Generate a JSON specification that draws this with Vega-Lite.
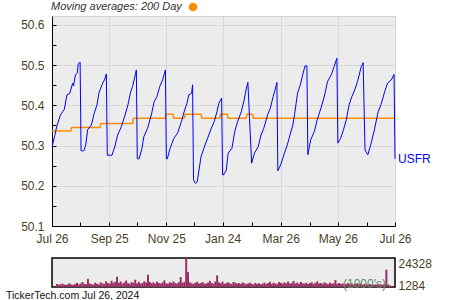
{
  "$schema": "https://vega.github.io/schema/vega-lite/v6.json",
  "background": "white",
  "padding": {"left": 5, "top": 2, "right": 0, "bottom": 0},
  "spacing": 11,
  "config": {
    "font": "Liberation Sans",
    "axis": {"labelFont": "Liberation Sans", "labelFontSize": 12, "labelColor": "#4b3e1e", "domainColor": "#000000", "tickColor": "#000000", "gridColor": "#d9d9d9"}
  },
  "datasets": {
    "price": [
      {"d":"2023-07-26","p":50.297},{"d":"2023-07-29","p":50.325},{"d":"2023-07-31","p":50.347},{"d":"2023-08-04","p":50.376},{"d":"2023-08-08","p":50.389},{"d":"2023-08-11","p":50.426},{"d":"2023-08-14","p":50.430},{"d":"2023-08-17","p":50.455},{"d":"2023-08-18","p":50.448},{"d":"2023-08-20","p":50.476},{"d":"2023-08-22","p":50.480},{"d":"2023-08-23","p":50.503},{"d":"2023-08-25","p":50.507},{"d":"2023-08-26","p":50.287},{"d":"2023-08-29","p":50.287},
      {"d":"2023-08-31","p":50.301},{"d":"2023-09-02","p":50.339},{"d":"2023-09-06","p":50.351},{"d":"2023-09-09","p":50.380},{"d":"2023-09-12","p":50.401},{"d":"2023-09-14","p":50.430},{"d":"2023-09-18","p":50.455},{"d":"2023-09-20","p":50.463},{"d":"2023-09-22","p":50.478},{"d":"2023-09-23","p":50.276},{"d":"2023-09-28","p":50.276},
      {"d":"2023-10-01","p":50.297},{"d":"2023-10-04","p":50.326},{"d":"2023-10-08","p":50.347},{"d":"2023-10-12","p":50.376},{"d":"2023-10-15","p":50.401},{"d":"2023-10-18","p":50.434},{"d":"2023-10-20","p":50.447},{"d":"2023-10-22","p":50.467},{"d":"2023-10-24","p":50.488},{"d":"2023-10-25","p":50.267},{"d":"2023-10-27","p":50.267},
      {"d":"2023-10-30","p":50.293},{"d":"2023-11-01","p":50.322},{"d":"2023-11-05","p":50.343},{"d":"2023-11-09","p":50.376},{"d":"2023-11-12","p":50.409},{"d":"2023-11-15","p":50.422},{"d":"2023-11-18","p":50.447},{"d":"2023-11-21","p":50.463},{"d":"2023-11-24","p":50.488},{"d":"2023-11-25","p":50.267},{"d":"2023-11-26","p":50.267},
      {"d":"2023-11-29","p":50.293},{"d":"2023-12-03","p":50.318},{"d":"2023-12-07","p":50.331},{"d":"2023-12-11","p":50.359},{"d":"2023-12-14","p":50.384},{"d":"2023-12-17","p":50.405},{"d":"2023-12-19","p":50.426},{"d":"2023-12-22","p":50.430},{"d":"2023-12-23","p":50.451},{"d":"2023-12-24","p":50.215},{"d":"2023-12-26","p":50.206},
      {"d":"2023-12-28","p":50.210},{"d":"2024-01-01","p":50.272},{"d":"2024-01-04","p":50.293},{"d":"2024-01-08","p":50.318},{"d":"2024-01-12","p":50.343},{"d":"2024-01-15","p":50.359},{"d":"2024-01-18","p":50.384},{"d":"2024-01-20","p":50.405},{"d":"2024-01-23","p":50.418},{"d":"2024-01-24","p":50.227},
      {"d":"2024-01-25","p":50.227},{"d":"2024-01-28","p":50.239},{"d":"2024-01-30","p":50.281},{"d":"2024-02-03","p":50.293},{"d":"2024-02-06","p":50.335},{"d":"2024-02-09","p":50.359},{"d":"2024-02-13","p":50.384},{"d":"2024-02-16","p":50.413},{"d":"2024-02-18","p":50.438},{"d":"2024-02-20","p":50.457},{"d":"2024-02-24","p":50.256},
      {"d":"2024-02-27","p":50.281},{"d":"2024-03-02","p":50.297},{"d":"2024-03-05","p":50.326},{"d":"2024-03-08","p":50.343},{"d":"2024-03-12","p":50.376},{"d":"2024-03-15","p":50.393},{"d":"2024-03-18","p":50.422},{"d":"2024-03-20","p":50.438},{"d":"2024-03-22","p":50.457},{"d":"2024-03-23","p":50.237},
      {"d":"2024-03-26","p":50.252},{"d":"2024-03-30","p":50.281},{"d":"2024-04-02","p":50.301},{"d":"2024-04-04","p":50.318},{"d":"2024-04-08","p":50.351},{"d":"2024-04-10","p":50.380},{"d":"2024-04-13","p":50.430},{"d":"2024-04-16","p":50.451},{"d":"2024-04-18","p":50.471},{"d":"2024-04-21","p":50.498},{"d":"2024-04-23","p":50.498},{"d":"2024-04-24","p":50.277},
      {"d":"2024-04-27","p":50.314},{"d":"2024-05-01","p":50.335},{"d":"2024-05-04","p":50.364},{"d":"2024-05-08","p":50.393},{"d":"2024-05-12","p":50.426},{"d":"2024-05-15","p":50.459},{"d":"2024-05-19","p":50.476},{"d":"2024-05-22","p":50.496},{"d":"2024-05-25","p":50.517},{"d":"2024-05-26","p":50.306},
      {"d":"2024-05-29","p":50.318},{"d":"2024-06-01","p":50.339},{"d":"2024-06-04","p":50.364},{"d":"2024-06-07","p":50.401},{"d":"2024-06-10","p":50.422},{"d":"2024-06-13","p":50.438},{"d":"2024-06-16","p":50.459},{"d":"2024-06-20","p":50.496},{"d":"2024-06-22","p":50.506},{"d":"2024-06-24","p":50.289},{"d":"2024-06-27","p":50.277},
      {"d":"2024-06-30","p":50.301},{"d":"2024-07-04","p":50.339},{"d":"2024-07-08","p":50.384},{"d":"2024-07-11","p":50.401},{"d":"2024-07-15","p":50.434},{"d":"2024-07-18","p":50.455},{"d":"2024-07-22","p":50.463},{"d":"2024-07-25","p":50.477},{"d":"2024-07-26","p":50.267}
    ],
    "ma": [
      {"d":"2023-07-26","p":50.336},{"d":"2023-08-15","p":50.336},{"d":"2023-08-16","p":50.345},{"d":"2023-09-15","p":50.345},{"d":"2023-09-16","p":50.355},{"d":"2023-10-20","p":50.355},{"d":"2023-10-21","p":50.368},{"d":"2023-11-24","p":50.368},{"d":"2023-11-25","p":50.378},{"d":"2023-12-02","p":50.378},{"d":"2023-12-03","p":50.368},{"d":"2023-12-14","p":50.368},{"d":"2023-12-15","p":50.378},{"d":"2024-01-01","p":50.378},{"d":"2024-01-02","p":50.368},{"d":"2024-01-21","p":50.368},{"d":"2024-01-22","p":50.378},{"d":"2024-01-29","p":50.378},{"d":"2024-01-30","p":50.368},{"d":"2024-02-18","p":50.368},{"d":"2024-02-19","p":50.378},{"d":"2024-02-25","p":50.378},{"d":"2024-02-26","p":50.368},{"d":"2024-07-25","p":50.368}
    ],
    "vol": [
      {"d":"2023-07-26","v":2600},{"d":"2023-07-28","v":1900},{"d":"2023-07-30","v":2300},
      {"d":"2023-08-01","v":2800},{"d":"2023-08-03","v":2100},{"d":"2023-08-05","v":1700},{"d":"2023-08-07","v":2400},{"d":"2023-08-09","v":3100},{"d":"2023-08-11","v":2000},{"d":"2023-08-13","v":1800},{"d":"2023-08-15","v":2600},{"d":"2023-08-17","v":3400},{"d":"2023-08-19","v":2200},{"d":"2023-08-21","v":2900},{"d":"2023-08-23","v":4200},{"d":"2023-08-25","v":2500},{"d":"2023-08-27","v":2300},{"d":"2023-08-29","v":6900},{"d":"2023-08-31","v":3000},
      {"d":"2023-09-02","v":2400},{"d":"2023-09-04","v":2000},{"d":"2023-09-06","v":3600},{"d":"2023-09-08","v":2700},{"d":"2023-09-10","v":2200},{"d":"2023-09-12","v":3900},{"d":"2023-09-14","v":3100},{"d":"2023-09-16","v":2500},{"d":"2023-09-18","v":4800},{"d":"2023-09-20","v":3300},{"d":"2023-09-22","v":2800},{"d":"2023-09-24","v":5200},{"d":"2023-09-26","v":3600},{"d":"2023-09-28","v":4400},{"d":"2023-09-30","v":8600},
      {"d":"2023-10-02","v":3500},{"d":"2023-10-04","v":4700},{"d":"2023-10-06","v":2900},{"d":"2023-10-08","v":3800},{"d":"2023-10-10","v":5400},{"d":"2023-10-12","v":3200},{"d":"2023-10-14","v":2700},{"d":"2023-10-16","v":4100},{"d":"2023-10-18","v":3600},{"d":"2023-10-20","v":6100},{"d":"2023-10-22","v":3000},{"d":"2023-10-24","v":4300},{"d":"2023-10-26","v":2800},{"d":"2023-10-28","v":3500},{"d":"2023-10-30","v":4900},
      {"d":"2023-11-01","v":3700},{"d":"2023-11-03","v":10300},{"d":"2023-11-05","v":4200},{"d":"2023-11-07","v":3100},{"d":"2023-11-09","v":3900},{"d":"2023-11-11","v":2800},{"d":"2023-11-13","v":4500},{"d":"2023-11-15","v":3300},{"d":"2023-11-17","v":2900},{"d":"2023-11-19","v":3800},{"d":"2023-11-21","v":5600},{"d":"2023-11-23","v":3100},{"d":"2023-11-25","v":2700},{"d":"2023-11-27","v":4000},{"d":"2023-11-29","v":3400},
      {"d":"2023-12-01","v":4700},{"d":"2023-12-03","v":3200},{"d":"2023-12-05","v":2900},{"d":"2023-12-07","v":4100},{"d":"2023-12-09","v":8400},{"d":"2023-12-11","v":3600},{"d":"2023-12-13","v":4300},{"d":"2023-12-15","v":24328},{"d":"2023-12-17","v":12500},{"d":"2023-12-19","v":3900},{"d":"2023-12-21","v":3100},{"d":"2023-12-23","v":2600},{"d":"2023-12-25","v":3500},{"d":"2023-12-27","v":4400},{"d":"2023-12-29","v":2900},{"d":"2023-12-31","v":3300},
      {"d":"2024-01-02","v":4100},{"d":"2024-01-04","v":3000},{"d":"2024-01-06","v":2800},{"d":"2024-01-08","v":3700},{"d":"2024-01-10","v":5200},{"d":"2024-01-12","v":3400},{"d":"2024-01-14","v":2900},{"d":"2024-01-16","v":4600},{"d":"2024-01-18","v":9800},{"d":"2024-01-20","v":3800},{"d":"2024-01-22","v":3100},{"d":"2024-01-24","v":4500},{"d":"2024-01-26","v":2700},{"d":"2024-01-28","v":3300},{"d":"2024-01-30","v":3900},
      {"d":"2024-02-01","v":3000},{"d":"2024-02-03","v":2600},{"d":"2024-02-05","v":4200},{"d":"2024-02-07","v":3500},{"d":"2024-02-09","v":2800},{"d":"2024-02-11","v":3300},{"d":"2024-02-13","v":2500},{"d":"2024-02-15","v":3900},{"d":"2024-02-17","v":3100},{"d":"2024-02-19","v":2400},{"d":"2024-02-21","v":2900},{"d":"2024-02-23","v":3600},{"d":"2024-02-25","v":2700},{"d":"2024-02-27","v":2200},{"d":"2024-02-29","v":3400},
      {"d":"2024-03-02","v":2600},{"d":"2024-03-04","v":3100},{"d":"2024-03-06","v":2300},{"d":"2024-03-08","v":2800},{"d":"2024-03-10","v":3700},{"d":"2024-03-12","v":2500},{"d":"2024-03-14","v":3300},{"d":"2024-03-16","v":4400},{"d":"2024-03-18","v":2700},{"d":"2024-03-20","v":3600},{"d":"2024-03-22","v":3000},{"d":"2024-03-24","v":2400},{"d":"2024-03-26","v":4100},{"d":"2024-03-28","v":3500},{"d":"2024-03-30","v":2900},
      {"d":"2024-04-01","v":3800},{"d":"2024-04-03","v":3100},{"d":"2024-04-05","v":4600},{"d":"2024-04-07","v":2800},{"d":"2024-04-09","v":3400},{"d":"2024-04-11","v":5100},{"d":"2024-04-13","v":3000},{"d":"2024-04-15","v":3700},{"d":"2024-04-17","v":2600},{"d":"2024-04-19","v":4300},{"d":"2024-04-21","v":3200},{"d":"2024-04-23","v":2800},{"d":"2024-04-25","v":3600},{"d":"2024-04-27","v":2500},{"d":"2024-04-29","v":3300},
      {"d":"2024-05-01","v":4000},{"d":"2024-05-03","v":2700},{"d":"2024-05-05","v":3500},{"d":"2024-05-07","v":4800},{"d":"2024-05-09","v":2900},{"d":"2024-05-11","v":3300},{"d":"2024-05-13","v":2600},{"d":"2024-05-15","v":3900},{"d":"2024-05-17","v":3100},{"d":"2024-05-19","v":2400},{"d":"2024-05-21","v":3600},{"d":"2024-05-23","v":2800},{"d":"2024-05-25","v":3200},{"d":"2024-05-27","v":5800},{"d":"2024-05-29","v":2700},{"d":"2024-05-31","v":3400},
      {"d":"2024-06-02","v":2500},{"d":"2024-06-04","v":3000},{"d":"2024-06-06","v":2200},{"d":"2024-06-08","v":2700},{"d":"2024-06-10","v":3300},{"d":"2024-06-12","v":2400},{"d":"2024-06-14","v":2900},{"d":"2024-06-16","v":2100},{"d":"2024-06-18","v":2600},{"d":"2024-06-20","v":3100},{"d":"2024-06-22","v":2300},{"d":"2024-06-24","v":2800},{"d":"2024-06-26","v":2000},{"d":"2024-06-28","v":2500},{"d":"2024-06-30","v":2200},
      {"d":"2024-07-02","v":1900},{"d":"2024-07-04","v":2400},{"d":"2024-07-06","v":2100},{"d":"2024-07-08","v":1800},{"d":"2024-07-10","v":2300},{"d":"2024-07-12","v":2000},{"d":"2024-07-14","v":1700},{"d":"2024-07-16","v":2200},{"d":"2024-07-18","v":1900},{"d":"2024-07-20","v":2600},{"d":"2024-07-22","v":14500},{"d":"2024-07-24","v":2100},{"d":"2024-07-26","v":1284}
    ]
  },
  "vconcat": [
    {
      "width": 343,
      "height": 210,
      "view": {"fill": "#ececec", "stroke": "#d4d4d4"},
      "encoding": {
        "x": {
          "field": "d", "type": "temporal",
          "scale": {"type": "utc", "domain": [{"year": 2023, "month": 7, "date": 26, "utc": true}, {"year": 2024, "month": 7, "date": 26, "utc": true}]},
          "axis": {
            "title": null,
            "values": [
              {"year": 2023, "month": 7, "date": 26, "utc": true},
              {"year": 2023, "month": 8, "date": 25, "utc": true},
              {"year": 2023, "month": 9, "date": 25, "utc": true},
              {"year": 2023, "month": 10, "date": 25, "utc": true},
              {"year": 2023, "month": 11, "date": 25, "utc": true},
              {"year": 2023, "month": 12, "date": 25, "utc": true},
              {"year": 2024, "month": 1, "date": 24, "utc": true},
              {"year": 2024, "month": 2, "date": 24, "utc": true},
              {"year": 2024, "month": 3, "date": 26, "utc": true},
              {"year": 2024, "month": 4, "date": 26, "utc": true},
              {"year": 2024, "month": 5, "date": 26, "utc": true},
              {"year": 2024, "month": 6, "date": 26, "utc": true},
              {"year": 2024, "month": 7, "date": 26, "utc": true}
            ],
            "labelExpr": "utcmonth(datum.value) % 2 == 0 ? utcFormat(datum.value, '%b %d') : ''",
            "gridOpacity": {"condition": {"test": "utcmonth(datum.value) % 2 == 0", "value": 1}, "value": 0},
            "tickSize": -4,
            "labelPadding": 11,
            "labelFlush": false,
            "labelOverlap": false
          }
        },
        "y": {
          "field": "p", "type": "quantitative",
          "scale": {"domain": [50.1, 50.622], "nice": false, "zero": false},
          "axis": {
            "title": null,
            "values": [50.1, 50.15, 50.2, 50.25, 50.3, 50.35, 50.4, 50.45, 50.5, 50.55, 50.6],
            "labelExpr": "abs(datum.value * 10 - round(datum.value * 10)) < 0.01 ? format(datum.value, '.1f') : ''",
            "gridOpacity": {"condition": {"test": "abs(datum.value * 10 - round(datum.value * 10)) < 0.01", "value": 1}, "value": 0},
            "tickSize": -4,
            "labelPadding": 12,
            "labelOverlap": false
          }
        }
      },
      "layer": [
        {
          "data": {"name": "ma"},
          "mark": {"type": "line", "strokeWidth": 1.5},
          "encoding": {
            "color": {
              "datum": "200 Day",
              "scale": {"domain": ["USFR", "200 Day"], "range": ["#0000ff", "#ff8c00"]},
              "legend": {
                "orient": "none", "legendX": -1, "legendY": -14,
                "title": "Moving averages: 200 Day", "titleOrient": "left",
                "titleFontSize": 11, "titleFontStyle": "italic", "titleFontWeight": "normal", "titleColor": "#333333",
                "titlePadding": 6, "titleBaseline": "middle",
                "values": ["200 Day"], "labelExpr": "''",
                "symbolType": "circle", "symbolSize": 75, "symbolFillColor": "#ff8c00", "symbolStrokeColor": "#ff8c00", "symbolStrokeWidth": 0,
                "encode": {"symbols": {"update": {"fill": {"value": "#ff8c00"}, "opacity": {"value": 1}}}}
              }
            }
          }
        },
        {
          "data": {"name": "price"},
          "mark": {"type": "line", "strokeWidth": 1},
          "encoding": {"color": {"datum": "USFR"}}
        },
        {
          "data": {"name": "price"},
          "transform": [
            {"window": [{"op": "row_number", "as": "r"}], "sort": [{"field": "d", "order": "descending"}]},
            {"filter": "datum.r == 1"}
          ],
          "mark": {"type": "text", "align": "left", "baseline": "middle", "dx": 3, "fontSize": 12, "color": "#0000ff"},
          "encoding": {"text": {"value": "USFR"}}
        }
      ]
    },
    {
      "width": 343,
      "height": 29,
      "view": {"fill": "#ececec", "stroke": "#000000", "strokeWidth": 1.5},
      "title": {"text": "TickerTech.com  Jul 26, 2024", "orient": "bottom", "anchor": "start", "frame": "group", "fontSize": 10.5, "fontWeight": "normal", "color": "#111111", "offset": 0, "dx": -46, "baseline": "top"},
      "layer": [
        {
          "data": {"name": "vol"},
          "mark": {"type": "bar", "size": 2, "color": "#993366"},
          "encoding": {
            "x": {"field": "d", "type": "temporal", "scale": {"type": "utc", "domain": [{"year": 2023, "month": 7, "date": 26, "utc": true}, {"year": 2024, "month": 7, "date": 26, "utc": true}]}, "axis": null},
            "y": {"field": "v", "type": "quantitative", "scale": {"domain": [0, 24328], "nice": false},
              "axis": {"orient": "right", "title": null, "values": [1284, 24328], "format": "d", "ticks": false, "domain": false, "grid": false, "labelPadding": 3,
                "labelBaseline": {"condition": {"test": "datum.value > 10000", "value": "top"}, "value": "middle"}}}
          }
        },
        {
          "data": {"values": [{"t": "(1000's)"}]},
          "mark": {"type": "text", "align": "right", "baseline": "middle", "dx": -4, "dy": -3, "fontSize": 12, "color": "#5b8a62"},
          "encoding": {
            "x": {"datum": {"year": 2024, "month": 7, "date": 26, "utc": true}, "type": "temporal"},
            "y": {"datum": 0, "type": "quantitative"},
            "text": {"field": "t"}
          }
        }
      ]
    }
  ]
}
